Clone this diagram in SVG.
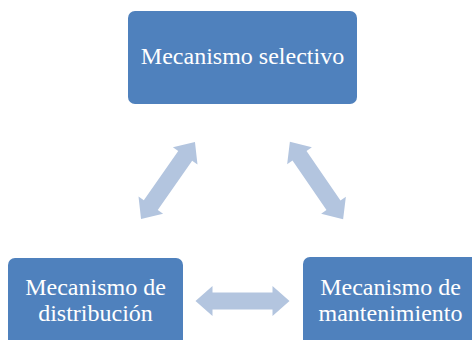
<svg xmlns="http://www.w3.org/2000/svg" width="472" height="340" viewBox="0 0 472 340">
<defs>
<style>
.box{fill:#4F81BD;}
.lbl{fill:#FFFFFF;font-family:"Liberation Serif","DejaVu Serif",serif;font-size:24px;text-anchor:middle;}
.arr{fill:#B3C5DF;}
</style>
<polygon id="dbl" points="-47,0 -30,-15 -30,-8.5 30,-8.5 30,-15 47,0 30,15 30,8.5 -30,8.5 -30,15"/>
</defs>
<rect width="472" height="340" fill="#FFFFFF"/>
<g id="connectors">
<use href="#dbl" class="arr" transform="translate(168,180.5) rotate(-55)"/>
<use href="#dbl" class="arr" transform="translate(316.5,180.5) rotate(55.5)"/>
<use href="#dbl" class="arr" transform="translate(242.5,301)"/>
</g>
<g id="selectivo">
<rect class="box" x="128" y="11" width="229" height="93" rx="7"/>
<text class="lbl" x="242.5" y="64">Mecanismo selectivo</text>
</g>
<g id="distribucion">
<rect class="box" x="8" y="258" width="175" height="100" rx="7"/>
<text class="lbl" x="95.5" y="295">Mecanismo de</text>
<text class="lbl" x="95.5" y="321">distribución</text>
</g>
<g id="mantenimiento">
<rect class="box" x="303" y="257" width="175" height="100" rx="7"/>
<text class="lbl" x="390.5" y="295">Mecanismo de</text>
<text class="lbl" x="390.5" y="321">mantenimiento</text>
</g>
</svg>
